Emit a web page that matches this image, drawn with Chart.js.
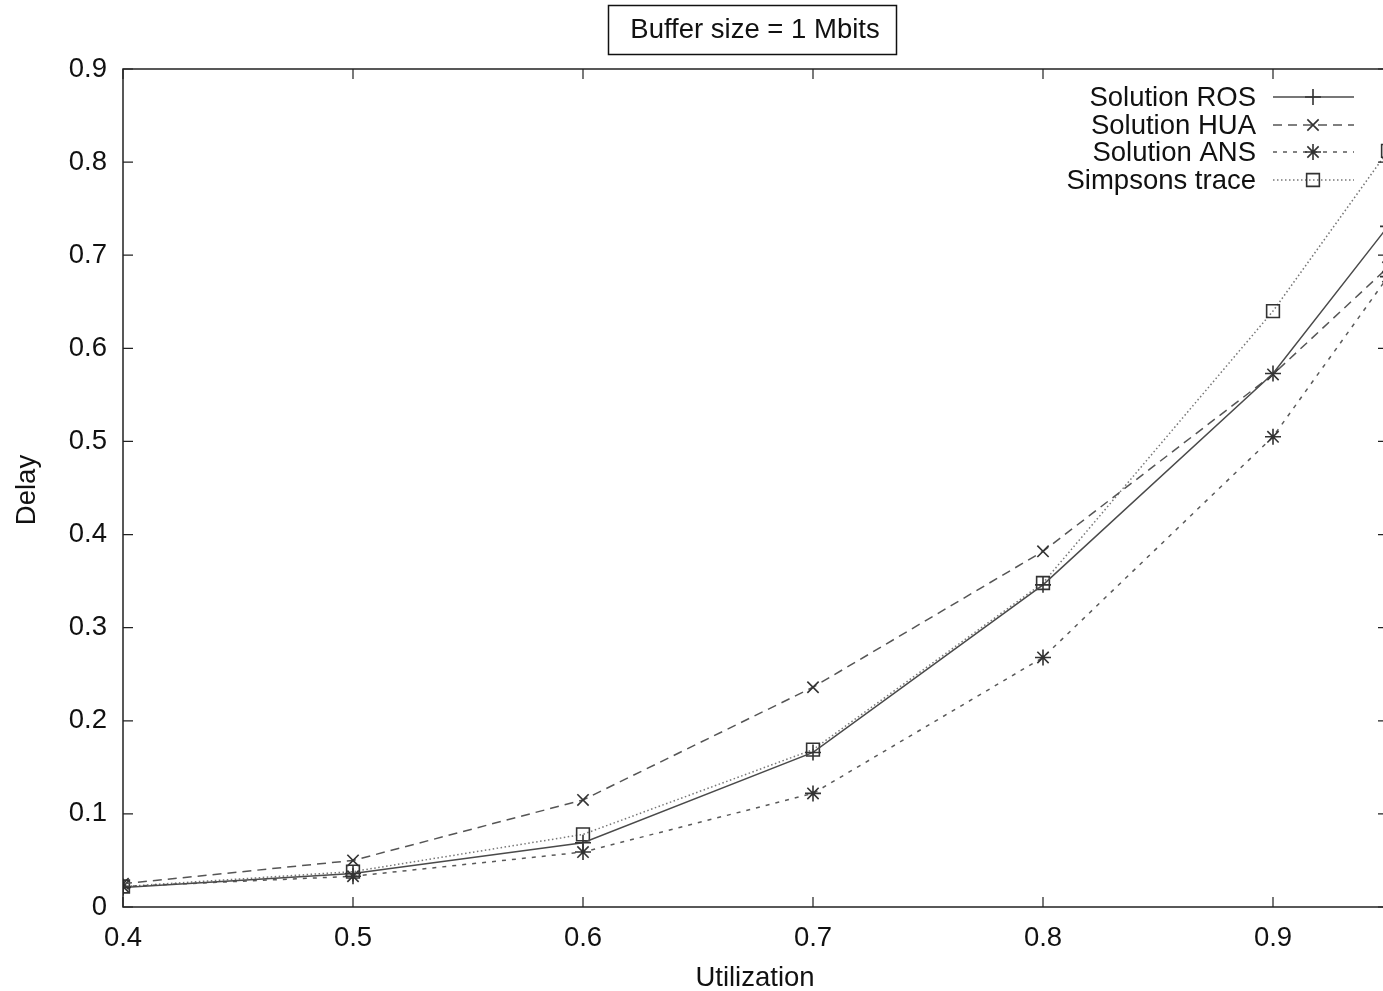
<!DOCTYPE html>
<html>
<head>
<meta charset="utf-8">
<script src="https://cdn.jsdelivr.net/npm/chart.js@4/dist/chart.umd.min.js"></script>
<style>
  html, body { margin: 0; padding: 0; background: #fff; overflow: hidden; }
</style>
</head>
<body>
<canvas id="delayChart" width="1400" height="991"></canvas>
<script>
// ================= DATA =================
const utilization = [0.4, 0.5, 0.6, 0.7, 0.8, 0.9, 0.95];
const rosDelay = [0.021, 0.036, 0.069, 0.166, 0.346, 0.573, 0.731];
const huaDelay = [0.025, 0.050, 0.115, 0.236, 0.382, 0.572, 0.687];
const ansDelay = [0.022, 0.033, 0.059, 0.122, 0.268, 0.505, 0.677];
const simpsonsDelay = [0.022, 0.038, 0.078, 0.169, 0.348, 0.640, 0.812];
const xTicks = [0.4, 0.5, 0.6, 0.7, 0.8, 0.9];
const yTicks = [0, 0.1, 0.2, 0.3, 0.4, 0.5, 0.6, 0.7, 0.8, 0.9];
const seriesNames = ["Solution ROS", "Solution HUA", "Solution ANS", "Simpsons trace"];

const FONT = "'Liberation Sans', Arial, Helvetica, sans-serif";
const INK = "#111";

function points(ys) {
    return utilization.map((x, i) => ({ x: x, y: ys[i] }));
}

const styles = [
    { color: "#4a4a4a", dash: [], point: "cross", radius: 8 },
    { color: "#555", dash: [9, 6], point: "crossRot", radius: 8 },
    { color: "#5a5a5a", dash: [4, 6], point: "star", radius: 8 },
    { color: "#777", dash: [1.5, 2.5], point: "rect", radius: 9 }
];
const seriesData = [rosDelay, huaDelay, ansDelay, simpsonsDelay];

const datasets = seriesData.map((ys, i) => ({
    label: seriesNames[i],
    data: points(ys),
    borderColor: styles[i].color,
    borderWidth: 1.5,
    borderDash: styles[i].dash,
    pointStyle: styles[i].point,
    pointRadius: styles[i].radius,
    pointBorderColor: "#333",
    pointBorderWidth: 1.6,
    pointBackgroundColor: "rgba(0,0,0,0)",
    fill: false,
    tension: 0
}));

// frame, inward ticks, title box, axis titles and legend
const decorations = {
    id: "decorations",
    afterDraw(chart) {
        const ctx = chart.ctx;
        const a = chart.chartArea;
        const xs = chart.scales.x, ys = chart.scales.y;
        ctx.save();
        ctx.strokeStyle = "#222";
        ctx.lineWidth = 1.5;
        ctx.setLineDash([]);
        ctx.strokeRect(a.left, a.top, a.right - a.left, a.bottom - a.top);

        ctx.lineWidth = 1.2;
        ctx.beginPath();
        xTicks.forEach(v => {
            const px = xs.getPixelForValue(v);
            ctx.moveTo(px, a.bottom); ctx.lineTo(px, a.bottom - 10);
            ctx.moveTo(px, a.top); ctx.lineTo(px, a.top + 10);
        });
        yTicks.forEach(v => {
            const py = ys.getPixelForValue(v);
            ctx.moveTo(a.left, py); ctx.lineTo(a.left + 10, py);
            ctx.moveTo(a.right, py); ctx.lineTo(a.right - 10, py);
        });
        ctx.stroke();

        // title box
        ctx.fillStyle = INK;
        ctx.font = "27.5px " + FONT;
        ctx.textAlign = "center";
        ctx.textBaseline = "middle";
        ctx.strokeStyle = "#111";
        ctx.lineWidth = 1.5;
        ctx.strokeRect(608.5, 5.5, 288, 49);
        ctx.fillText("Buffer size = 1 Mbits", 755, 30);

        // axis titles
        ctx.fillText("Utilization", 755, 978);
        ctx.save();
        ctx.translate(27, 490);
        ctx.rotate(-Math.PI / 2);
        ctx.fillText("Delay", 0, 0);
        ctx.restore();

        // legend
        const rowY = [97, 125, 152, 180];
        seriesNames.forEach((name, i) => {
            const y = rowY[i];
            ctx.fillStyle = INK;
            ctx.textAlign = "right";
            ctx.fillText(name, 1256, y + 1);
            ctx.strokeStyle = styles[i].color;
            ctx.lineWidth = 1.5;
            ctx.setLineDash(styles[i].dash);
            ctx.beginPath();
            ctx.moveTo(1273, y); ctx.lineTo(1354, y);
            ctx.stroke();
            ctx.setLineDash([]);
            if (Chart.helpers && Chart.helpers.drawPoint) {
                ctx.strokeStyle = "#333";
                ctx.fillStyle = "rgba(0,0,0,0)";
                ctx.lineWidth = 1.6;
                Chart.helpers.drawPoint(ctx, {
                    pointStyle: styles[i].point,
                    radius: styles[i].radius,
                    rotation: 0,
                    borderWidth: 1.6
                }, 1313, y);
            }
        });
        ctx.restore();
    }
};

new Chart(document.getElementById("delayChart"), {
    type: "line",
    data: { datasets: datasets },
    options: {
        responsive: false,
        animation: false,
        layout: { padding: { left: 0, top: 69, right: 12, bottom: 0 } },
        plugins: {
            legend: { display: false },
            tooltip: { enabled: false }
        },
        scales: {
            x: {
                type: "linear",
                min: 0.4,
                max: 0.95,
                grid: { display: false, drawTicks: false },
                border: { display: false },
                afterFit: s => { s.height = 84; },
                afterBuildTicks: s => { s.ticks = xTicks.map(v => ({ value: v })); },
                ticks: {
                    padding: 15,
                    color: INK,
                    font: { family: FONT, size: 27.5 },
                    callback: v => String(+v.toFixed(2))
                }
            },
            y: {
                type: "linear",
                min: 0,
                max: 0.9,
                grid: { display: false, drawTicks: false },
                border: { display: false },
                afterFit: s => { s.width = 123; },
                afterBuildTicks: s => { s.ticks = yTicks.map(v => ({ value: v })); },
                ticks: {
                    padding: 16,
                    color: INK,
                    font: { family: FONT, size: 27.5 },
                    callback: v => String(+v.toFixed(2))
                }
            }
        }
    },
    plugins: [decorations]
});
</script>
</body>
</html>
